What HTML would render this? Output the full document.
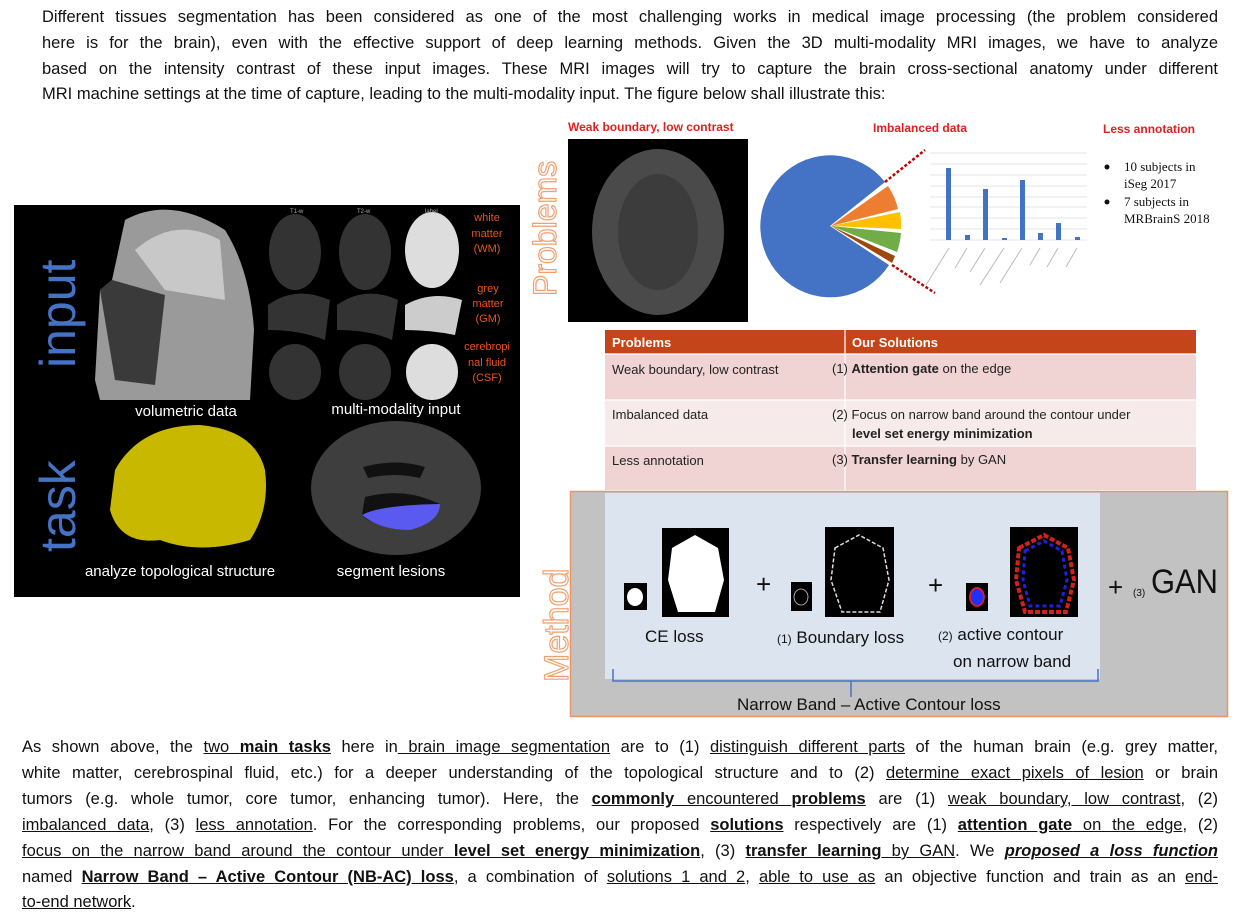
<!DOCTYPE html>
<html><head><meta charset="utf-8"><style>
body{margin:0;width:1259px;height:921px;background:#fff;position:relative;overflow:hidden;font-family:"Liberation Sans",sans-serif;}
.l{position:absolute;font-size:16.5px;color:#111;text-align:justify;text-align-last:justify;white-space:nowrap;line-height:20px;}
.l.last{text-align-last:left}
.a{position:absolute}
u{text-decoration:underline}
</style></head><body>
<div class="l" style="left:42px;top:7px;width:1176px">Different tissues segmentation has been considered as one of the most challenging works in medical image processing (the problem considered</div>
<div class="l" style="left:42px;top:33px;width:1176px">here is for the brain), even with the effective support of deep learning methods. Given the 3D multi-modality MRI images, we have to analyze</div>
<div class="l" style="left:42px;top:59px;width:1176px">based on the intensity contrast of these input images. These MRI images will try to capture the brain cross-sectional anatomy under different</div>
<div class="l last" style="left:42px;top:84px;width:1176px">MRI machine settings at the time of capture, leading to the multi-modality input. The figure below shall illustrate this:</div>

<svg class="a" style="left:0;top:0" width="1259" height="921" font-family="Liberation Sans, sans-serif">
<!-- left panel -->
<rect x="14" y="205" width="506" height="392" fill="#000"/>
<text transform="translate(75,368) rotate(-90)" font-size="50" fill="#4472c4">input</text>
<text transform="translate(75,552) rotate(-90)" font-size="50" fill="#4472c4">task</text>
<path d="M95 380 L100 290 L112 280 L125 220 Q170 195 225 230 Q250 270 254 330 L250 400 L100 400 Z" fill="#9a9a9a"/>
<path d="M100 290 L112 280 L165 295 L155 385 L115 380 Z" fill="#3a3a3a"/>
<path d="M135 250 Q175 215 220 240 L225 300 L165 290 Z" fill="#c8c8c8"/>
<g fill="#333">
<ellipse cx="295" cy="252" rx="26" ry="38"/><ellipse cx="365" cy="252" rx="26" ry="38"/>
<path d="M268 305 Q295 285 330 300 L325 340 Q300 330 268 330Z"/><path d="M337 305 Q365 285 398 300 L392 340 Q370 330 337 330Z"/>
<ellipse cx="295" cy="372" rx="26" ry="28"/><ellipse cx="365" cy="372" rx="26" ry="28"/>
</g>
<ellipse cx="432" cy="250" rx="27" ry="38" fill="#ddd"/>
<path d="M405 305 Q432 290 462 300 L455 335 Q430 330 405 330Z" fill="#ccc"/>
<ellipse cx="432" cy="372" rx="26" ry="28" fill="#ddd"/>
<g font-size="11" fill="#e8541e" text-anchor="middle"><text x="487" y="221">white</text><text x="487" y="237">matter</text><text x="487" y="252">(WM)</text>
<text x="488" y="292">grey</text><text x="488" y="307">matter</text><text x="488" y="322">(GM)</text>
<text x="487" y="350">cerebropi</text><text x="487" y="366">nal fluid</text><text x="487" y="381">(CSF)</text></g>
<g font-size="6" fill="#aaa"><text x="290" y="213">T1-w</text><text x="357" y="213">T2-w</text><text x="425" y="213">label</text></g>
<g font-size="15" fill="#fff" text-anchor="middle"><text x="186" y="416">volumetric data</text><text x="396" y="414">multi-modality input</text>
<text x="180" y="576">analyze topological structure</text><text x="391" y="576">segment lesions</text></g>
<path d="M115 470 Q140 425 200 425 Q255 430 265 470 Q270 510 250 540 Q200 555 160 540 Q120 545 110 510Z" fill="#c8b800"/>
<ellipse cx="396" cy="488" rx="85" ry="67" fill="#3e3e3e"/>
<path d="M363 467 Q395 458 425 467 L420 478 Q395 472 368 478Z" fill="#111"/>
<path d="M365 497 Q400 488 430 500 L440 504 Q420 528 395 525 Q370 525 362 515Z" fill="#111"/>
<path d="M362 515 Q380 505 440 504 Q440 522 410 530 Q380 530 362 515Z" fill="#5a5af0"/>
<!-- problems -->
<text transform="translate(556,296) rotate(-90)" font-size="32" fill="none" stroke="#f0a070" stroke-width="1.2">Problems</text>
<g font-size="12" font-weight="bold" fill="#e02020"><text x="568" y="131">Weak boundary, low contrast</text><text x="873" y="132">Imbalanced data</text><text x="1103" y="133">Less annotation</text></g>
<rect x="568" y="139" width="180" height="183" fill="#000"/>
<ellipse cx="658" cy="232" rx="66" ry="83" fill="#4a4a4a"/>
<ellipse cx="658" cy="232" rx="40" ry="58" fill="#3c3c3c"/>
<path d="M830 226 L885 182 A70 71 0 1 0 889 265 Z" fill="#4472c4"/>
<path d="M831 226 L888 186 A70 71 0 0 1 898 209 Z" fill="#ed7d31"/>
<path d="M831 226 L900 212 A70 71 0 0 1 901 229 Z" fill="#ffc000"/>
<path d="M831 226 L901 233 A70 71 0 0 1 897 252 Z" fill="#70ad47"/>
<path d="M831 226 L895 256 A70 71 0 0 1 892 263 Z" fill="#9e480e"/>
<line x1="885" y1="182" x2="925" y2="150" stroke="#c00000" stroke-width="2.5" stroke-dasharray="3 2"/>
<line x1="892" y1="265" x2="935" y2="293" stroke="#c00000" stroke-width="2.5" stroke-dasharray="3 2"/>
<g stroke="#ccc" stroke-width="0.6"><line x1="930" y1="153" x2="1087" y2="153"/><line x1="930" y1="164" x2="1087" y2="164"/><line x1="930" y1="175" x2="1087" y2="175"/><line x1="930" y1="186" x2="1087" y2="186"/><line x1="930" y1="197" x2="1087" y2="197"/><line x1="930" y1="207" x2="1087" y2="207"/><line x1="930" y1="218" x2="1087" y2="218"/><line x1="930" y1="229" x2="1087" y2="229"/><line x1="930" y1="240" x2="1087" y2="240"/></g>
<g fill="#4472c4"><rect x="946" y="168" width="5" height="72"/><rect x="965" y="235" width="5" height="5"/><rect x="983" y="189" width="5" height="51"/><rect x="1002" y="238" width="5" height="2"/><rect x="1020" y="180" width="5" height="60"/><rect x="1038" y="233" width="5" height="7"/><rect x="1056" y="223" width="5" height="17"/><rect x="1075" y="237" width="5" height="3"/></g>
<g stroke="#bbb" stroke-width="1"><line x1="949" y1="248" x2="926" y2="285"/><line x1="967" y1="248" x2="955" y2="268"/><line x1="985" y1="248" x2="970" y2="272"/><line x1="1004" y1="248" x2="980" y2="285"/><line x1="1022" y1="248" x2="1000" y2="283"/><line x1="1040" y1="248" x2="1030" y2="265"/><line x1="1058" y1="248" x2="1047" y2="267"/><line x1="1077" y1="248" x2="1066" y2="267"/></g>
<g font-size="13" fill="#111" font-family="Liberation Serif, serif"><circle cx="1107" cy="167" r="2.5"/><text x="1124" y="171">10 subjects in</text><text x="1124" y="188">iSeg 2017</text><circle cx="1107" cy="202" r="2.5"/><text x="1124" y="206">7 subjects in</text><text x="1124" y="223">MRBrainS 2018</text></g>
<!-- table -->
<rect x="605" y="330" width="591" height="24" fill="#c5451a"/>
<rect x="605" y="354" width="591" height="46" fill="#f0d4d4"/>
<rect x="605" y="400" width="591" height="46" fill="#f6eaea"/>
<rect x="605" y="446" width="591" height="44" fill="#f0d4d4"/>
<g stroke="#fff" stroke-width="1.2"><line x1="845" y1="330" x2="845" y2="490"/><line x1="605" y1="354" x2="1196" y2="354"/><line x1="605" y1="400" x2="1196" y2="400"/><line x1="605" y1="446" x2="1196" y2="446"/></g>
<g font-size="13" fill="#fff" font-weight="bold"><text x="612" y="347">Problems</text><text x="852" y="347">Our Solutions</text></g>
<g font-size="13" fill="#222"><text x="612" y="374">Weak boundary, low contrast</text><text x="612" y="419">Imbalanced data</text><text x="612" y="465">Less annotation</text>
<text x="832" y="373">(1) <tspan font-weight="bold">Attention gate</tspan> on the edge</text>
<text x="832" y="419">(2) Focus on narrow band around the contour under</text>
<text x="852" y="438" font-weight="bold">level set energy minimization</text>
<text x="832" y="464">(3) <tspan font-weight="bold">Transfer learning</tspan> by GAN</text></g>
<!-- method -->
<text transform="translate(568,682) rotate(-90)" font-size="34" fill="none" stroke="#f0a070" stroke-width="1.2">Method</text>
<rect x="570.5" y="491.5" width="657" height="225" fill="#c2c2c2" stroke="#e8956a" stroke-width="1.5"/>
<rect x="605" y="493" width="495" height="186" fill="#dbe4ef"/>
<rect x="624" y="583" width="23" height="27" fill="#000"/><ellipse cx="635" cy="597" rx="8" ry="9" fill="#fff"/>
<rect x="662" y="528" width="67" height="89" fill="#000"/><path d="M672 548 L695 535 L718 548 L724 580 L715 612 L678 612 L668 580Z" fill="#fff"/>
<rect x="791" y="582" width="21" height="29" fill="#000"/><ellipse cx="801" cy="597" rx="7" ry="8" fill="none" stroke="#ccc" stroke-width="0.8"/>
<rect x="825" y="527" width="69" height="90" fill="#000"/><path d="M835 548 L859 535 L883 548 L889 580 L880 612 L842 612 L831 580Z" fill="none" stroke="#ddd" stroke-width="1.5" stroke-dasharray="4 2"/>
<rect x="966" y="583" width="22" height="28" fill="#000"/><ellipse cx="977" cy="597" rx="7" ry="9" fill="#2030ff" stroke="#e02020" stroke-width="1.8"/>
<rect x="1010" y="527" width="68" height="90" fill="#000"/><path d="M1019 548 L1044 535 L1068 548 L1074 580 L1066 612 L1025 612 L1016 580Z" fill="none" stroke="#d02020" stroke-width="4" stroke-dasharray="5 2"/><path d="M1025 551 L1044 541 L1062 551 L1067 580 L1060 606 L1030 606 L1023 580Z" fill="none" stroke="#2020e0" stroke-width="3" stroke-dasharray="4 3"/>
<g font-size="26" fill="#111"><text x="756" y="593">+</text><text x="928" y="594">+</text><text x="1108" y="596">+</text></g>
<text x="1133" y="596" font-size="10" fill="#111">(3)</text><text x="1151" y="593" font-size="34" fill="#111" textLength="67" lengthAdjust="spacingAndGlyphs">GAN</text>
<g font-size="17" fill="#111"><text x="645" y="642">CE loss</text><text x="777" y="643"><tspan font-size="12">(1)</tspan> Boundary loss</text>
<text x="938" y="640"><tspan font-size="12">(2)</tspan> active contour</text><text x="953" y="667">on narrow band</text>
<text x="737" y="710">Narrow Band – Active Contour loss</text></g>
<path d="M613 669 L613 681 L1098 681 L1098 669 M851 681 L851 697" fill="none" stroke="#4472c4" stroke-width="1.5"/>
</svg>

<div class="l" style="left:22px;top:737px;width:1196px">As shown above, the <u>two <b>main tasks</b></u> here in<u> brain image segmentation</u> are to (1) <u>distinguish different parts</u> of the human brain (e.g. grey matter,</div>
<div class="l" style="left:22px;top:763px;width:1196px">white matter, cerebrospinal fluid, etc.) for a deeper understanding of the topological structure and to (2) <u>determine exact pixels of lesion</u> or brain</div>
<div class="l" style="left:22px;top:789px;width:1196px">tumors (e.g. whole tumor, core tumor, enhancing tumor). Here, the <u><b>commonly</b> encountered <b>problems</b></u> are (1) <u>weak boundary, low contrast</u>, (2)</div>
<div class="l" style="left:22px;top:815px;width:1196px"><u>imbalanced data</u>, (3) <u>less annotation</u>. For the corresponding problems, our proposed <u><b>solutions</b></u> respectively are (1) <u><b>attention gate</b> on the edge</u>, (2)</div>
<div class="l" style="left:22px;top:841px;width:1196px"><u>focus on the narrow band around the contour under <b>level set energy minimization</b></u>, (3) <u><b>transfer learning</b> by GAN</u>. We <u><b><i>proposed a loss function</i></b></u></div>
<div class="l" style="left:22px;top:867px;width:1196px">named <u><b>Narrow Band – Active Contour (NB-AC) loss</b></u>, a combination of <u>solutions 1 and 2</u>, <u>able to use as</u> an objective function and train as an <u>end-</u></div>
<div class="l last" style="left:22px;top:892px;width:1196px"><u>to-end network</u>.</div>
</body></html>
